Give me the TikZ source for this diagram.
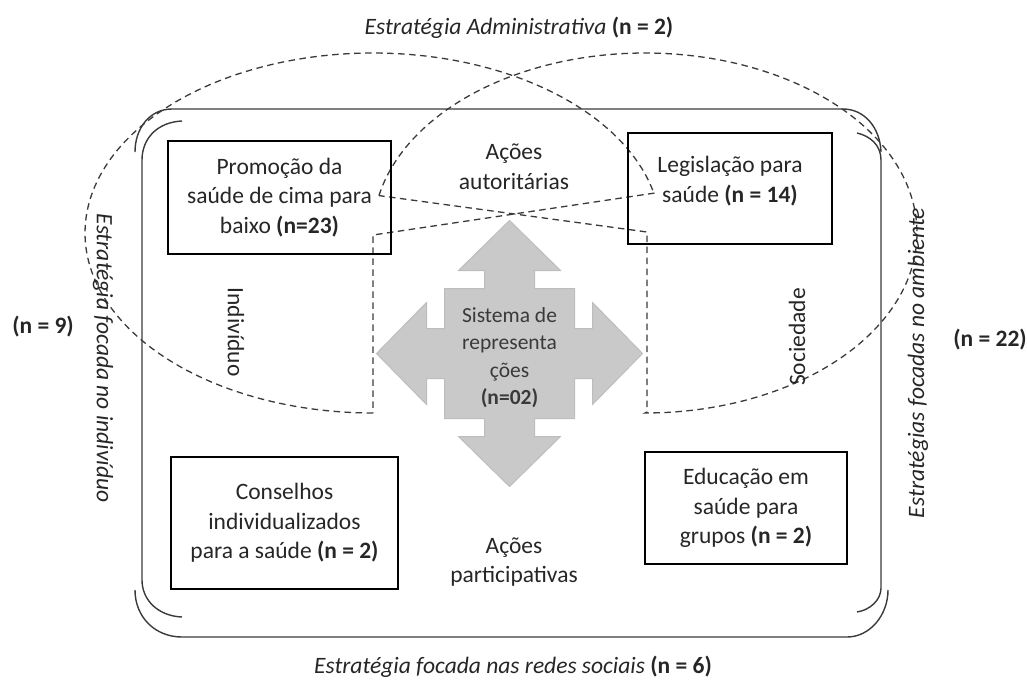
\documentclass[tikz,border=0pt]{standalone}
\usepackage{fontspec}
\setmainfont{Carlito}
\definecolor{txt}{HTML}{262626}
\definecolor{ln}{HTML}{3A3A3A}
\definecolor{arrfill}{HTML}{C9C9C9}
\definecolor{arrline}{HTML}{BDBDBD}
\begin{document}
\begin{tikzpicture}[x=1pt,y=-1pt,
  every node/.style={text=txt, font=\fontsize{23.5}{29.5}\selectfont, align=center, inner sep=0pt},
  box/.style={draw=black, line width=2.8pt},
  brk/.style={draw=ln, line width=1.4pt},
  dsh/.style={draw=ln, line width=1.3pt, dash pattern=on 6.5pt off 4.5pt},
  arrowshape/.style={fill=arrfill, draw=arrline, line width=1pt},
  ]
\useasboundingbox (0,0) rectangle (1027,680);

% bracket pairs (outer frame)
\draw[brk] (135,152) .. controls (135,128) and (150,109) .. (172,109) -- (843,109) .. controls (864,109) and (880,127) .. (881,152);
\draw[brk] (135,590) .. controls (135,617) and (155,637) .. (182,637) -- (847,637) .. controls (870,637) and (888,615) .. (888,590);
\draw[brk] (182,121) .. controls (158,122) and (142,138) .. (142,160) -- (142,580) .. controls (142,600) and (158,616) .. (182,617);
\draw[brk] (857,133) .. controls (870,136) and (881,145) .. (881,160) -- (881,588) .. controls (881,600) and (870,610) .. (857,612);

% dashed strategy shapes
\draw[dsh] plot[domain=90:347, samples=160] ({373+288*cos(\x)},{233+180*sin(\x)}) -- (655,193) -- (373,235) -- cycle;
\draw[dsh] plot[domain=-168:90, samples=160] ({645+272*cos(\x)},{233+180*sin(\x)}) -- (647,412) -- (647,232) -- cycle;

% central four-way arrow
\begin{scope}[shift={(509.5,353.5)}]
\draw[arrowshape] (0,-133) -- (51,-83) -- (25,-83) -- (25,-65) -- (65,-65) -- (65,-25) -- (83,-25) -- (83,-51)
  -- (133,0) -- (83,51) -- (83,25) -- (65,25) -- (65,65) -- (25,65) -- (25,83) -- (51,83)
  -- (0,133) -- (-51,83) -- (-25,83) -- (-25,65) -- (-65,65) -- (-65,25) -- (-83,25) -- (-83,51)
  -- (-133,0) -- (-83,-51) -- (-83,-25) -- (-65,-25) -- (-65,-65) -- (-25,-65) -- (-25,-83) -- (-51,-83) -- cycle;
\end{scope}
\node[font=\fontsize{21.5}{27.5}\selectfont, text=ln] (sys) at (509.5,357.5) {Sistema de\\representa\\ções\\\textbf{(n=02)}};

% boxes
\node[box, minimum width=223pt, minimum height=113pt] (prom) at (279.5,197.5) {Promoção da\\saúde de cima para\\baixo \textbf{(n=23)}};
\node[box, minimum width=204pt, minimum height=111pt] (leg) at (730,188.5) {};
\node (legt) at (730,181) {Legislação para\\saúde \textbf{(n = 14)}};
\node[box, minimum width=227pt, minimum height=132pt] (cons) at (284.5,523) {Conselhos\\individualizados\\para a saúde \textbf{(n = 2)}};
\node[box, minimum width=202pt, minimum height=112pt] (edu) at (746,508) {Educação em\\saúde para\\grupos \textbf{(n = 2)}};

% inner labels
\node (aut) at (514,166.5) {Ações\\autoritárias};
\node (part) at (514,562) {Ações\\participativas};
\node[rotate=-90] (ind) at (236,332) {Indivíduo};
\node[rotate=90] (soc) at (797,337) {Sociedade};

% outer labels
\node (adm) at (519,28) {\textit{Estratégia Administrativa} \textbf{(n = 2)}};
\node (redes) at (513,667) {\textit{Estratégia focada nas redes sociais} \textbf{(n = 6)}};
\node[rotate=-90] (indiv) at (103,358) {\textit{Estratégia focada no indivíduo}};
\node (n9) at (43,327) {\textbf{(n = 9)}};
\node[rotate=90] (amb) at (918,363) {\textit{Estratégias focadas no ambiente}};
\node (n22) at (990,340) {\textbf{(n = 22)}};
\end{tikzpicture}
\end{document}
